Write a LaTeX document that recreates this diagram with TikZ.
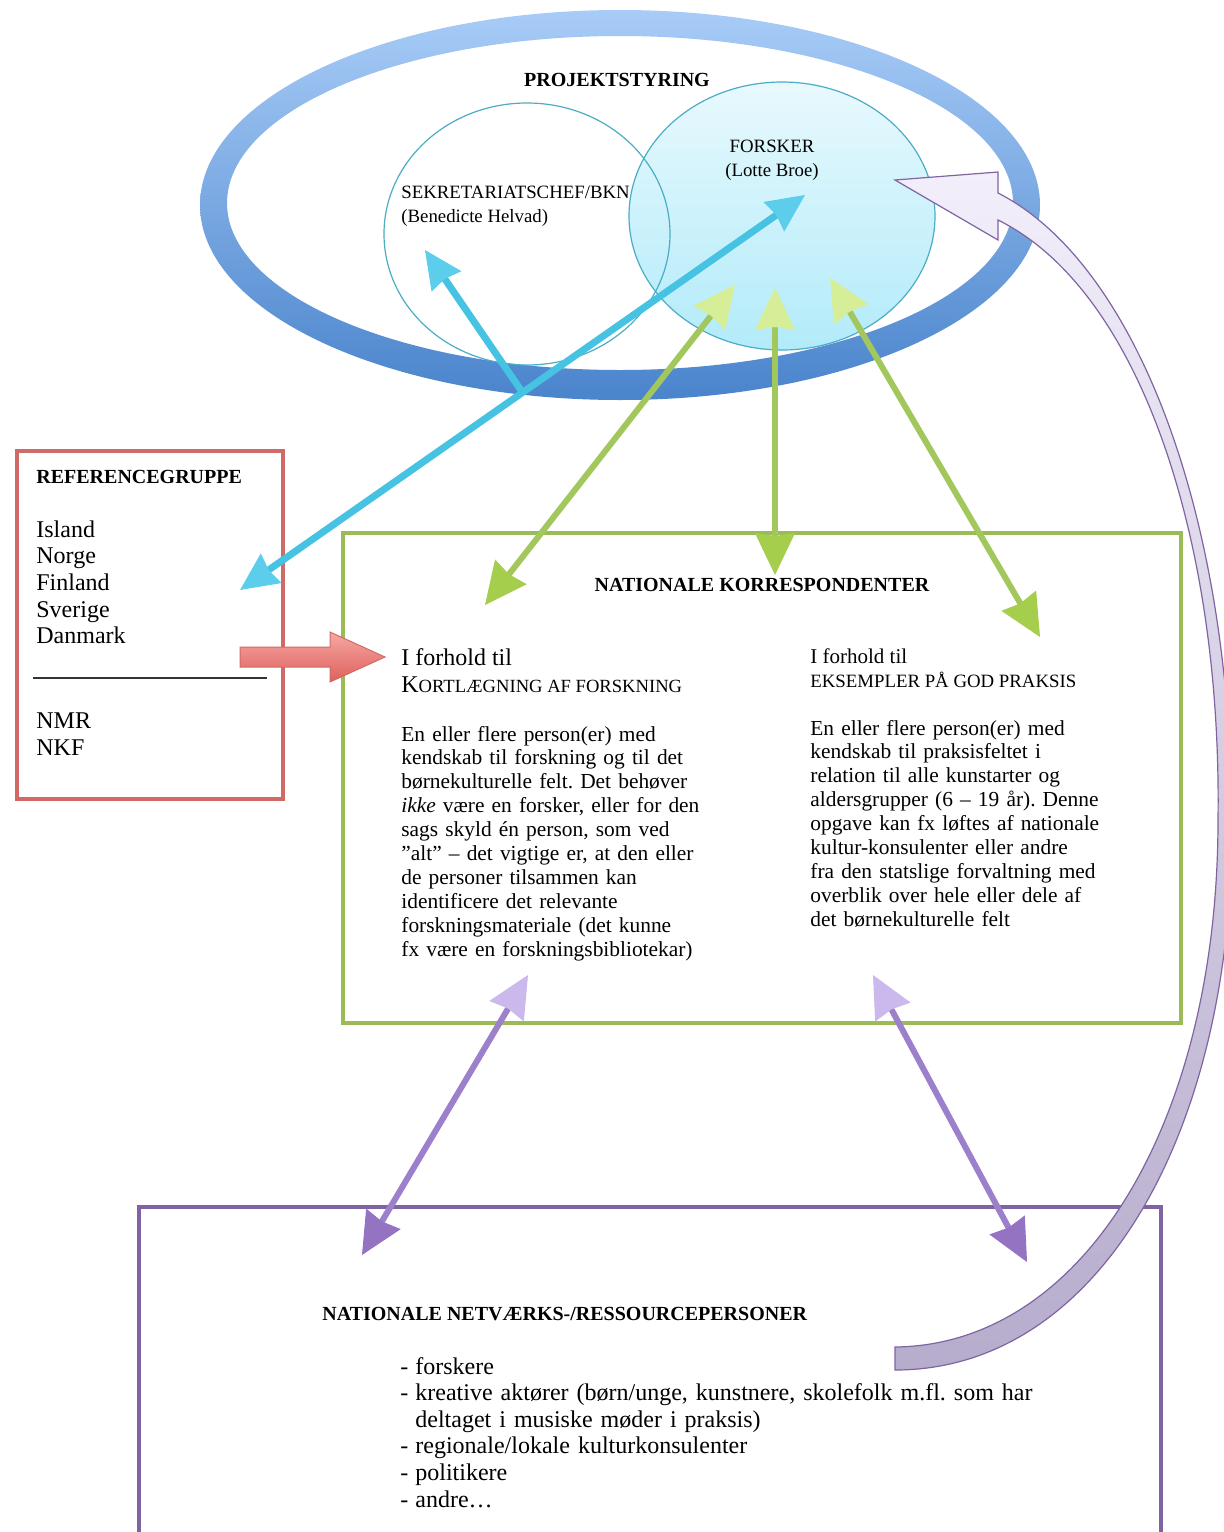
\documentclass[tikz,border=0pt]{standalone}
\usepackage{fontspec}
\setmainfont{Liberation Serif}
\usetikzlibrary{arrows.meta}
\usetikzlibrary{calc}
\frenchspacing

\definecolor{ringtop}{HTML}{A8CCF7}
\definecolor{ringbund}{HTML}{4A84CC}
\definecolor{aqua}{HTML}{4BACC6}
\definecolor{forsktop}{HTML}{E8F9FD}
\definecolor{forskbund}{HTML}{B2EBFA}
\definecolor{cyanskaft}{HTML}{46C2E2}
\definecolor{cyanhoved}{HTML}{5CCEEC}
\definecolor{gronskaft}{HTML}{A2C75C}
\definecolor{gronlys}{HTML}{D6EE98}
\definecolor{gronmork}{HTML}{A4CE4C}
\definecolor{gronkant}{HTML}{9BBB59}
\definecolor{rodkant}{HTML}{D06A66}
\definecolor{rodtop}{HTML}{F6A8A4}
\definecolor{rodbund}{HTML}{DE605C}
\definecolor{lillakant}{HTML}{8064A2}
\definecolor{lillaskaft}{HTML}{9C80CC}
\definecolor{lillalys}{HTML}{CBB8EC}
\definecolor{lillamork}{HTML}{9474C2}
\definecolor{buetop}{HTML}{F2EEFA}
\definecolor{buebund}{HTML}{B6ACCC}

\newcommand{\punkt}{\makebox[7.5pt][l]{-}}

\tikzset{
  hoved/.tip={Stealth[length=21pt, width=20pt, inset=1.5pt, line width=0.5pt]},
  lillehoved/.tip={Stealth[length=19pt, width=18pt, inset=1.5pt, line width=0.5pt]},
  tekst/.style={anchor=base west, inner sep=0pt, align=left},
  overskrift/.style={inner sep=0pt, font=\bfseries\fontsize{10}{12}\selectfont},
  brod/.style={tekst, text width=160pt, font=\fontsize{10.7}{11.95}\selectfont},
  cyanpil/.style={draw=cyanskaft, line width=3.5pt},
  gronpil/.style={draw=gronskaft, line width=3pt,
    {hoved[color=gronlys, fill=gronlys]}-{hoved[color=gronmork, fill=gronmork]}},
  lillapil/.style={draw=lillaskaft, line width=3pt,
    {hoved[color=lillalys, fill=lillalys]}-{hoved[color=lillamork, fill=lillamork]}}
}

\begin{document}
\begin{tikzpicture}[x=0.5pt, y=-0.5pt]
  \useasboundingbox (0,0) rectangle (1223,1532);
  \coordinate (ring) at (620,205);
  \coordinate (ringind) at (620,203);
  \coordinate (sekrc) at (527,234);
  \coordinate (forskc) at (782,216);

  \shade [even odd rule, top color=ringtop, bottom color=ringbund] (ring) ellipse [x radius=420, y radius=195] (ringind) ellipse [x radius=393, y radius=167];
  \shadedraw [top color=forsktop, bottom color=forskbund, draw=aqua, line width=0.6pt] (forskc) ellipse [x radius=153, y radius=134];
  \draw [aqua, line width=0.6pt] (sekrc) ellipse [x radius=143, y radius=131];

  \node [overskrift] (projekt) at (617,80) {PROJEKTSTYRING};
  \node [tekst, font=\fontsize{9.4}{12}\selectfont, align=center, anchor=base] (forsker) at (772,176) {FORSKER\\(Lotte Broe)};
  \node [tekst, font=\fontsize{9.4}{12}\selectfont] (sekr) at (401,222) {SEKRETARIATSCHEF/BKN\\(Benedicte Helvad)};

  % kasserne
  \draw [rodkant, line width=2pt] (17,451) rectangle (283,799);
  \draw [gronkant, line width=2pt] (343,533) rectangle (1181,1023);
  \draw [lillakant, line width=1.6pt] (139,1540) -- (139,1207) -- (1161,1207) -- (1161,1540);

  \node [tekst, overskrift, anchor=base west] (refgrp) at (36,483) {REFERENCEGRUPPE};
  \node [tekst, text width=100pt, font=\fontsize{12}{13.35}\selectfont] (lande) at (36,537) {Island\\Norge\\Finland\\Sverige\\Danmark};
  \coordinate (streg1) at (33,678);
  \coordinate (streg2) at (267,678);
  \draw [black!80, line width=0.8pt] (streg1) -- (streg2);
  \node [tekst, text width=100pt, font=\fontsize{12}{13.5}\selectfont] (nordisk) at (36,728) {NMR\\NKF};

  \node [overskrift, anchor=base] (natkor) at (762,591) {NATIONALE KORRESPONDENTER};
  \node [tekst, font=\fontsize{12}{14}\selectfont] (fhv) at (401,665) {I forhold til};
  \node [tekst, font=\fontsize{9.3}{12}\selectfont] (kortl) at (401,692) {{\fontsize{12}{14}\selectfont K}ORTLÆGNING AF FORSKNING};
  \node [brod] (brodv) at (401,741) {En eller flere person(er) med\\
    kendskab til forskning og til det\\
    børnekulturelle felt. Det behøver\\
    \textit{ikke} være en forsker, eller for den\\
    sags skyld én person, som ved\\
    ”alt” – det vigtige er, at den eller\\
    de personer tilsammen kan\\
    identificere det relevante\\
    forskningsmateriale (det kunne\\
    fx være en forskningsbibliotekar)};
  \node [tekst, font=\fontsize{10.5}{12}\selectfont] (fhh) at (810,663) {I forhold til};
  \node [tekst, font=\fontsize{9.4}{12}\selectfont] (eksempl) at (810,687) {EKSEMPLER PÅ GOD PRAKSIS};
  \node [brod] (brodh) at (810,735) {En eller flere person(er) med\\
    kendskab til praksisfeltet i\\
    relation til alle kunstarter og\\
    aldersgrupper (6 – 19 år). Denne\\
    opgave kan fx løftes af nationale\\
    kultur-konsulenter eller andre\\
    fra den statslige forvaltning med\\
    overblik over hele eller dele af\\
    det børnekulturelle felt};

  \node [tekst, overskrift, anchor=base west] (netv) at (322,1320) {NATIONALE NETVÆRKS-/RESSOURCEPERSONER};
  \node [tekst, text width=340pt, font=\fontsize{12}{13.3}\selectfont] (liste) at (400,1374) {\punkt forskere\\
    \punkt kreative aktører (børn/unge, kunstnere, skolefolk m.fl. som har\\
    \hspace*{7.5pt}deltaget i musiske møder i praksis)\\
    \punkt regionale/lokale kulturkonsulenter\\
    \punkt politikere\\
    \punkt andre…};

  % pilene
  \coordinate (cy1) at (240,590);
  \coordinate (cy2) at (805,195);
  \coordinate (cy3) at ($(cy1)!0.5!(cy2)$);
  \coordinate (cy4) at (425,250);
  \draw [cyanpil, -{lillehoved[color=cyanhoved, fill=cyanhoved]}] (cy3) -- (cy4);
  \draw [cyanpil, {lillehoved[color=cyanhoved, fill=cyanhoved]}-{lillehoved[color=cyanhoved, fill=cyanhoved]}] (cy1) -- (cy2);

  \coordinate (g1a) at (735,285);
  \coordinate (g1b) at (485,605);
  \coordinate (g2a) at (775,288);
  \coordinate (g2b) at (775,575);
  \coordinate (g3a) at (830,278);
  \coordinate (g3b) at (1040,637);
  \draw [gronpil] (g1a) -- (g1b);
  \draw [gronpil] (g2a) -- (g2b);
  \draw [gronpil] (g3a) -- (g3b);

  \coordinate (p1a) at (528,975);
  \coordinate (p1b) at (362,1255);
  \coordinate (p2a) at (873,975);
  \coordinate (p2b) at (1027,1262);
  \draw [lillapil] (p1a) -- (p1b);
  \draw [lillapil] (p2a) -- (p2b);

  \coordinate (rod) at (240,657);
  \shadedraw [top color=rodtop, bottom color=rodbund, draw=rodkant, line width=0.5pt]
    (rod) ++(0,-10) -- ++(90,0) -- ++(0,-15) -- ++(55,25) -- ++(-55,25) -- ++(0,-15) -- ++(-90,0) -- cycle;

  \coordinate (buestart) at (895,1347);
  \coordinate (buespids) at (895,180);
  \shadedraw [top color=buetop, bottom color=buebund, draw=lillakant, line width=0.6pt]
    (buestart) .. controls (1085,1345) and (1218,1120) .. (1218,820)
    .. controls (1222,540) and (1140,290) .. (998,220) -- (998,240) -- (buespids) -- (998,172) -- (998,193)
    .. controls (1130,260) and (1230,500) .. (1232,820)
    .. controls (1234,1130) and (1100,1370) .. (895,1370) -- cycle;
\end{tikzpicture}
\end{document}
